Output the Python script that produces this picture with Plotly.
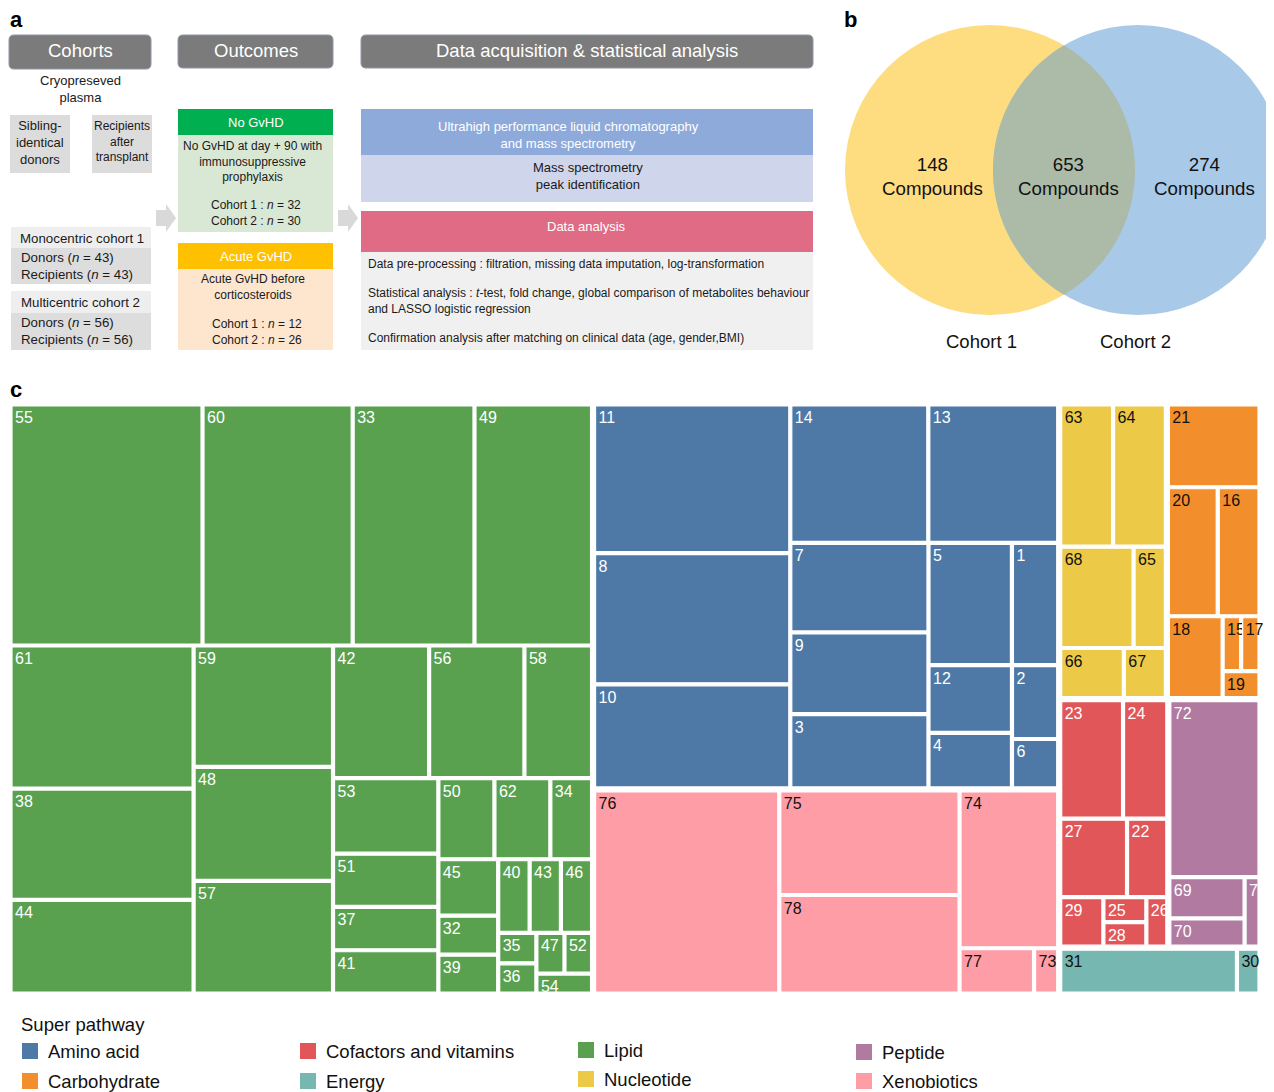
import numpy as np
import plotly.graph_objects as go

# The page body has an 8px margin, so the figure is sized to the visible area
# and page-pixel positions are converted with that offset.
OFF = 8
W, H = 1274 - OFF, 1092 - OFF


def X(px):
    return (px - OFF) / W


def Y(py):
    return 1 - (py - OFF) / H


# ---------------- data ----------------
pathways = ["Amino acid", "Carbohydrate", "Cofactors and vitamins", "Energy",
            "Lipid", "Nucleotide", "Peptide", "Xenobiotics"]
pathway_colors = ["#4E79A7", "#F28E2B", "#E15759", "#76B7B2",
                  "#59A14F", "#EDC948", "#B07AA1", "#FF9DA7"]
pathway_text_colors = ["white", "#111111", "white", "#111111",
                       "white", "#111111", "white", "#111111"]

amino_ids = ["11", "8", "10", "14", "13", "7", "9", "3", "5", "1", "12", "4", "2", "6"]
amino_vals = [286.7, 253.5, 200.9, 187.7, 176.7, 121.9, 111.0, 101.0, 100.4, 55.7, 55.6, 45.7, 33.6, 22.5]

carbo_ids = ["21", "20", "16", "18", "15", "17", "19"]
carbo_vals = [76.0, 64.5, 54.0, 45.0, 10.2, 10.1, 10.0]

cofactor_ids = ["23", "24", "27", "22", "29", "25", "28", "26"]
cofactor_vals = [74.5, 52.5, 52.4, 31.6, 21.4, 10.8, 10.5, 10.4]

energy_ids = ["31", "30"]
energy_vals = [81.5, 10.4]

lipid_ids = ["55", "60", "33", "49", "61", "38", "44", "59", "48", "57", "42", "56", "58",
             "53", "51", "37", "41", "50", "62", "34", "45", "32", "39", "40", "43", "46",
             "35", "36", "47", "52", "54"]
lipid_vals = [454, 355, 288, 278, 257, 200, 168, 166, 156, 154, 125, 124, 88,
              78, 55, 44.8, 44.7, 44.6, 44.5, 33.2, 33.1, 22.9, 22.8, 22.7, 22.6, 22.5,
              11.4, 11.3, 11.2, 11.0, 10.9]

nucleotide_ids = ["63", "64", "68", "65", "66", "67"]
nucleotide_vals = [75.1, 75.0, 74.3, 32.7, 31.9, 21.1]

peptide_ids = ["72", "69", "70", "71"]
peptide_vals = [160.2, 31.2, 21.3, 10.4]

xeno_ids = ["76", "75", "78", "74", "77", "73"]
xeno_vals = [371.7, 186.2, 175.4, 153.9, 33.3, 10.8]

venn_counts = [148, 653, 274]
venn_sets = ["Cohort 1", "Cohort 2"]

members = {
    "Amino acid": (amino_ids, amino_vals),
    "Carbohydrate": (carbo_ids, carbo_vals),
    "Cofactors and vitamins": (cofactor_ids, cofactor_vals),
    "Energy": (energy_ids, energy_vals),
    "Lipid": (lipid_ids, lipid_vals),
    "Nucleotide": (nucleotide_ids, nucleotide_vals),
    "Peptide": (peptide_ids, peptide_vals),
    "Xenobiotics": (xeno_ids, xeno_vals),
}

FONT = "Liberation Sans, Arial, Helvetica, sans-serif"

# ---------------- treemap (panel c) ----------------
ids, labels, parents, values, colors, texts, tcolors, lwidths = [], [], [], [], [], [], [], []
ids.append("root"); labels.append(""); parents.append(""); values.append(0)
colors.append("white"); texts.append(""); tcolors.append("white"); lwidths.append(0)
for p, c, tc in zip(pathways, pathway_colors, pathway_text_colors):
    ids.append(p); labels.append(p); parents.append("root"); values.append(0)
    colors.append("white"); texts.append(""); tcolors.append("white"); lwidths.append(0)
    cids, cvals = members[p]
    for cid, v in zip(cids, cvals):
        ids.append(p + "/" + cid); labels.append(cid); parents.append(p); values.append(v)
        colors.append(c); texts.append(cid); tcolors.append(tc); lwidths.append(1.2)

fig = go.Figure()
fig.add_trace(go.Treemap(
    ids=ids, labels=labels, parents=parents, values=values,
    branchvalues="remainder", sort=True,
    text=texts, textinfo="text", textposition="top left",
    textfont=dict(family=FONT, size=16, color=tcolors),
    marker=dict(colors=colors, line=dict(color="white", width=lwidths),
                pad=dict(t=1, l=1, r=1, b=1)),
    tiling=dict(packing="squarify", squarifyratio=1.618034),
    pathbar=dict(visible=False),
    root=dict(color="white"),
    hoverinfo="label+value",
    domain=dict(x=[X(10), X(1260)], y=[Y(994), Y(404)]),
))

shapes = []
annotations = []


def rect(x0, y0, x1, y1, fill, line=None, lw=0):
    shapes.append(dict(type="rect", xref="paper", yref="paper",
                       x0=X(x0), x1=X(x1), y0=Y(y1), y1=Y(y0),
                       fillcolor=fill, line=dict(color=line or fill, width=lw), layer="above"))


def rrect(x0, y0, x1, y1, r, fill, line):
    pts = [
        f"M {X(x0 + r)} {Y(y0)}", f"L {X(x1 - r)} {Y(y0)}", f"Q {X(x1)} {Y(y0)} {X(x1)} {Y(y0 + r)}",
        f"L {X(x1)} {Y(y1 - r)}", f"Q {X(x1)} {Y(y1)} {X(x1 - r)} {Y(y1)}",
        f"L {X(x0 + r)} {Y(y1)}", f"Q {X(x0)} {Y(y1)} {X(x0)} {Y(y1 - r)}",
        f"L {X(x0)} {Y(y0 + r)}", f"Q {X(x0)} {Y(y0)} {X(x0 + r)} {Y(y0)}", "Z"]
    shapes.append(dict(type="path", xref="paper", yref="paper", path=" ".join(pts),
                       fillcolor=fill, line=dict(color=line, width=1), layer="above"))


def text(x, y, s, size=12, color="#1a1a1a", xanchor="center", yanchor="middle", align="center", bold=False):
    if bold:
        s = "<b>" + s + "</b>"
    annotations.append(dict(x=X(x), y=Y(y), xref="paper", yref="paper", text=s, showarrow=False,
                            xanchor=xanchor, yanchor=yanchor, align=align,
                            font=dict(family=FONT, size=size, color=color)))


def chevron(x0, yc):
    pts = [(x0, yc - 8), (x0 + 10, yc - 8), (x0 + 10, yc - 14), (x0 + 20, yc),
           (x0 + 10, yc + 14), (x0 + 10, yc + 8), (x0, yc + 8)]
    path = "M " + " L ".join(f"{X(a)} {Y(b)}" for a, b in pts) + " Z"
    shapes.append(dict(type="path", xref="paper", yref="paper", path=path,
                       fillcolor="#d9d9d9", line=dict(width=0), layer="above"))


# ---------------- panel a ----------------
text(16, 20, "a", size=22, color="black", bold=True)
text(850, 20, "b", size=22, color="black", bold=True)
text(16, 389, "c", size=22, color="black", bold=True)

rrect(9, 35, 151, 69, 5, "#7b7b7b", "#8d96a8")
rrect(178, 35, 333, 68, 5, "#7b7b7b", "#8d96a8")
rrect(361, 35, 813, 68, 5, "#7b7b7b", "#8d96a8")
text(80, 51, "Cohorts", size=18.5, color="white")
text(256, 51, "Outcomes", size=18.5, color="white")
text(587, 51, "Data acquisition &amp; statistical analysis", size=18.5, color="white")

text(80, 89, "Cryopreseved<br>plasma", size=13)
rect(10, 115, 70, 173, "#dcdcdc")
text(40, 142, "Sibling-<br>identical<br>donors", size=13)
rect(92, 115, 152, 173, "#dcdcdc")
text(122, 141, "Recipients<br>after<br>transplant", size=12)

rect(11, 227, 151, 248, "#eeeeee")
text(18, 238, "Monocentric cohort 1", size=13.3, xanchor="left", align="left")
rect(11, 248, 151, 284, "#dddddd")
text(19, 266, "Donors (<i>n</i> = 43)<br>Recipients (<i>n</i> = 43)", size=13.3, xanchor="left", align="left")
rect(11, 291, 151, 313, "#eeeeee")
text(19, 302, "Multicentric cohort 2", size=13.3, xanchor="left", align="left")
rect(11, 313, 151, 350, "#dddddd")
text(19, 331, "Donors (<i>n</i> = 56)<br>Recipients (<i>n</i> = 56)", size=13.3, xanchor="left", align="left")

chevron(156, 218)
chevron(338, 218)

rect(178, 109, 333, 135, "#00b050")
text(256, 123, "No GvHD", size=13, color="white")
rect(178, 135, 333, 232, "#d9e8d4")
text(252, 162, "No GvHD at day + 90 with<br>immunosuppressive<br>prophylaxis", size=12)
text(256, 213, "Cohort 1 : <i>n</i> = 32<br>Cohort 2 : <i>n</i> = 30", size=12)

rect(178, 243, 333, 269, "#ffc000")
text(256, 256, "Acute GvHD", size=13, color="white")
rect(178, 269, 333, 350, "#fde6cd")
text(253, 287, "Acute GvHD before<br>corticosteroids", size=12)
text(257, 332, "Cohort 1 : <i>n</i> = 12<br>Cohort 2 : <i>n</i> = 26", size=12)

rect(361, 109, 813, 155, "#8eaadb")
text(568, 135, "Ultrahigh performance liquid chromatography<br>and mass spectrometry", size=13, color="white")
rect(361, 155, 813, 202, "#cfd5ea")
text(588, 176, "Mass spectrometry<br>peak identification", size=13)
rect(361, 211, 813, 252, "#e06b84")
text(586, 226, "Data analysis", size=13, color="white")
rect(361, 252, 813, 350, "#f0f0f0")
text(366, 264, "Data pre-processing : filtration, missing data imputation, log-transformation",
     size=12, xanchor="left", align="left")
text(366, 301, "Statistical analysis : <i>t</i>-test, fold change, global comparison of metabolites behaviour<br>and LASSO logistic regression",
     size=12, xanchor="left", align="left")
text(366, 338, "Confirmation analysis after matching on clinical data (age, gender,BMI)",
     size=12, xanchor="left", align="left")

# ---------------- panel b (Venn) ----------------
R = 145
c1 = (990, 170)
c2 = (1138, 170)
shapes.append(dict(type="circle", xref="paper", yref="paper",
                   x0=X(c1[0] - R), x1=X(c1[0] + R), y0=Y(c1[1] + R), y1=Y(c1[1] - R),
                   fillcolor="#FEDC80", line=dict(width=0), layer="below"))
shapes.append(dict(type="circle", xref="paper", yref="paper",
                   x0=X(c2[0] - R), x1=X(c2[0] + R), y0=Y(c2[1] + R), y1=Y(c2[1] - R),
                   fillcolor="#A9C9E8", line=dict(width=0), layer="below"))
d = c2[0] - c1[0]
half = np.arccos((d / 2) / R)
t1 = np.linspace(-half, half, 60)
t2 = np.linspace(np.pi - half, np.pi + half, 60)
lens = [(c1[0] + R * np.cos(t), c1[1] + R * np.sin(t)) for t in t1] + \
       [(c2[0] + R * np.cos(t), c2[1] + R * np.sin(t)) for t in t2]
lens_path = "M " + " L ".join(f"{X(a)} {Y(b)}" for a, b in lens) + " Z"
shapes.append(dict(type="path", xref="paper", yref="paper", path=lens_path,
                   fillcolor="#ABBBA8", line=dict(width=0), layer="below"))
text(932, 176, f"{venn_counts[0]}<br>Compounds", size=18.7, color="#111111")
text(1068, 176, f"{venn_counts[1]}<br>Compounds", size=18.7, color="#111111")
text(1204, 176, f"{venn_counts[2]}<br>Compounds", size=18.7, color="#111111")
text(981, 342, venn_sets[0], size=18.5, color="#111111")
text(1135, 342, venn_sets[1], size=18.5, color="#111111")

# ---------------- legend ----------------
text(19, 1024, "Super pathway", size=18.5, color="#111111", xanchor="left", align="left")
legend_x = [22, 22, 300, 300, 578, 578, 856, 856]
legend_y = [1051, 1081, 1051, 1081, 1050, 1079, 1052, 1081]
for p, c, lx, ly in zip(pathways, pathway_colors, legend_x, legend_y):
    rect(lx, ly - 8, lx + 16, ly + 8, c)
    text(lx + 24, ly, p, size=18.5, color="#111111", xanchor="left", align="left")

fig.update_layout(
    width=W, height=H, margin=dict(l=0, r=0, t=0, b=0),
    paper_bgcolor="white", plot_bgcolor="white",
    shapes=shapes, annotations=annotations,
    font=dict(family=FONT),
    uniformtext=dict(minsize=16, mode="show"),
)

fig.write_html("out.html")
